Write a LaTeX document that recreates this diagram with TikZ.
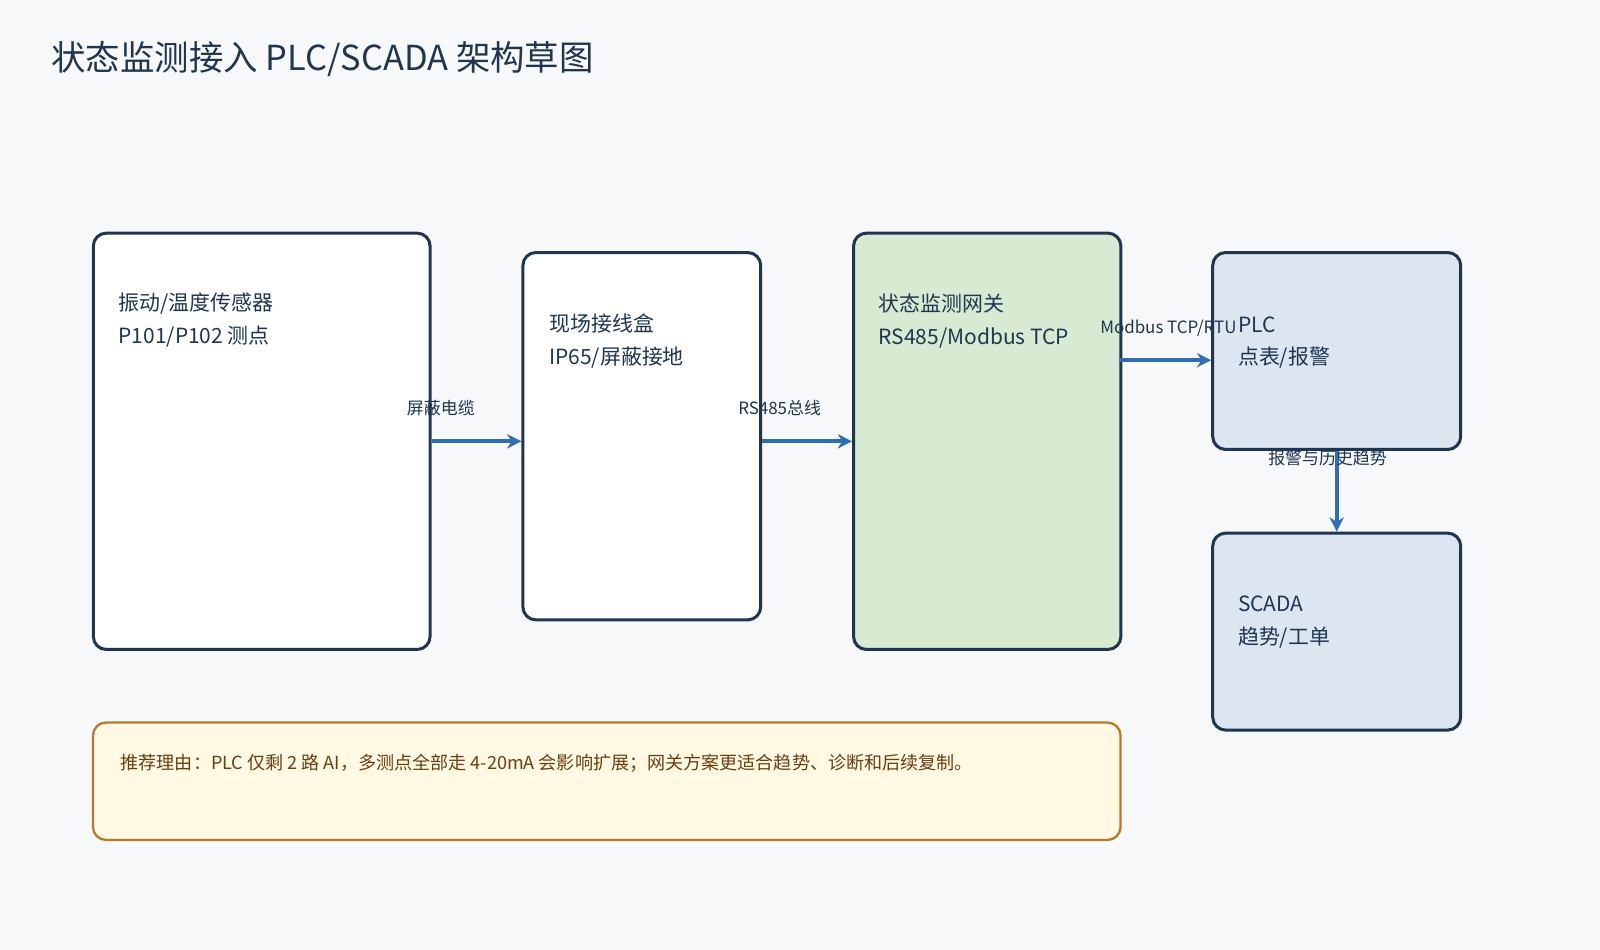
\documentclass[tikz,border=0pt]{standalone}
\usepackage{fontspec}
\setmainfont{Noto Sans CJK SC}
\usetikzlibrary{arrows.meta}
\usetikzlibrary{positioning}
\definecolor{ink}{HTML}{1F3550}
\definecolor{bgpage}{HTML}{F6F8FA}
\definecolor{gwgreen}{HTML}{D9EAD3}
\definecolor{ctrlblue}{HTML}{DCE6F0}
\definecolor{notefill}{HTML}{FFF8E3}
\definecolor{noteline}{HTML}{B87A2A}
\definecolor{notetext}{HTML}{6B3E10}
\definecolor{wire}{HTML}{2F6DB5}
\tikzset{
	blk/.style={draw=ink,line width=2.1pt,rounded corners=9pt,anchor=north west,inner sep=0pt},
	txt/.style={anchor=west,inner sep=0pt,text=ink,font=\fontsize{14.6}{16}\selectfont},
	lbl/.style={inner sep=1pt,text=ink,font=\fontsize{11.8}{13}\selectfont},
	flow/.style={wire,line width=2.6pt,-{Stealth[length=10pt,width=10pt]}}
}
\begin{document}
\begin{tikzpicture}[x=0.025cm,y=-0.025cm]
	\fill[bgpage] (0,0) rectangle (1568,931);
	\useasboundingbox (0,0) rectangle (1568,931);
	
	\node[anchor=west,inner sep=0pt,text=ink,font=\fontsize{24}{28}\selectfont] (title) at (50,58) {状态监测接入 PLC/SCADA 架构草图};
	
	% blocks
	\node[blk,fill=white,minimum width=330*0.025cm,minimum height=408*0.025cm] (sensor) at (90,227) {};
	\node[blk,fill=white,minimum width=233*0.025cm,minimum height=360*0.025cm] (jbox) at (511,246) {};
	\node[blk,fill=gwgreen,minimum width=262*0.025cm,minimum height=408*0.025cm] (gw) at (835,227) {};
	\node[blk,fill=ctrlblue,minimum width=243*0.025cm,minimum height=193*0.025cm] (plc) at (1187,246) {};
	\node[blk,fill=ctrlblue,minimum width=243*0.025cm,minimum height=193*0.025cm] (scada) at (1187,521) {};
	\node[blk,draw=noteline,line width=1.6pt,fill=notefill,minimum width=1007*0.025cm,minimum height=115*0.025cm] (note) at (90,707) {};
	
	\node[txt] (sensorA) at (116,297) {振动/温度传感器};
	\node[txt] (sensorB) at (116,330) {P101/P102 测点};
	\node[txt] (jboxA) at (538,317) {现场接线盒};
	\node[txt] (jboxB) at (538,350) {IP65/屏蔽接地};
	\node[txt] (gwA) at (861,297) {状态监测网关};
	\node[txt] (gwB) at (861,331) {RS485/Modbus TCP};
	\node[txt] (plcA) at (1213,318) {PLC};
	\node[txt] (plcB) at (1213,350) {点表/报警};
	\node[txt] (scadaA) at (1213,592) {SCADA};
	\node[txt] (scadaB) at (1213,625) {趋势/工单};
	\node[txt,text=notetext,font=\fontsize{12.6}{14}\selectfont] (noteT) at (118,748) {推荐理由：PLC 仅剩 2 路 AI，多测点全部走 4-20mA 会影响扩展；网关方案更适合趋势、诊断和后续复制。};
	
	% connectors
	\draw[flow] (sensor.east) -- (sensor.east -| jbox.west);
	\node[lbl] (cable) at (432,400) {屏蔽电缆};
	\draw[flow] (jbox.east |- sensor.east) -- (gw.west);
	\node[lbl] (bus) at (764,400) {RS485总线};
	\coordinate (gwout) at (1097,353);
	\draw[flow] (gwout) -- (gwout -| plc.west);
	\node[lbl] (modbus) at (1145,322) {Modbus TCP/RTU};
	\draw[flow] (plc.south) -- (scada.north);
	\node[lbl] (hist) at (1301,449) {报警与历史趋势};
\end{tikzpicture}
\end{document}
